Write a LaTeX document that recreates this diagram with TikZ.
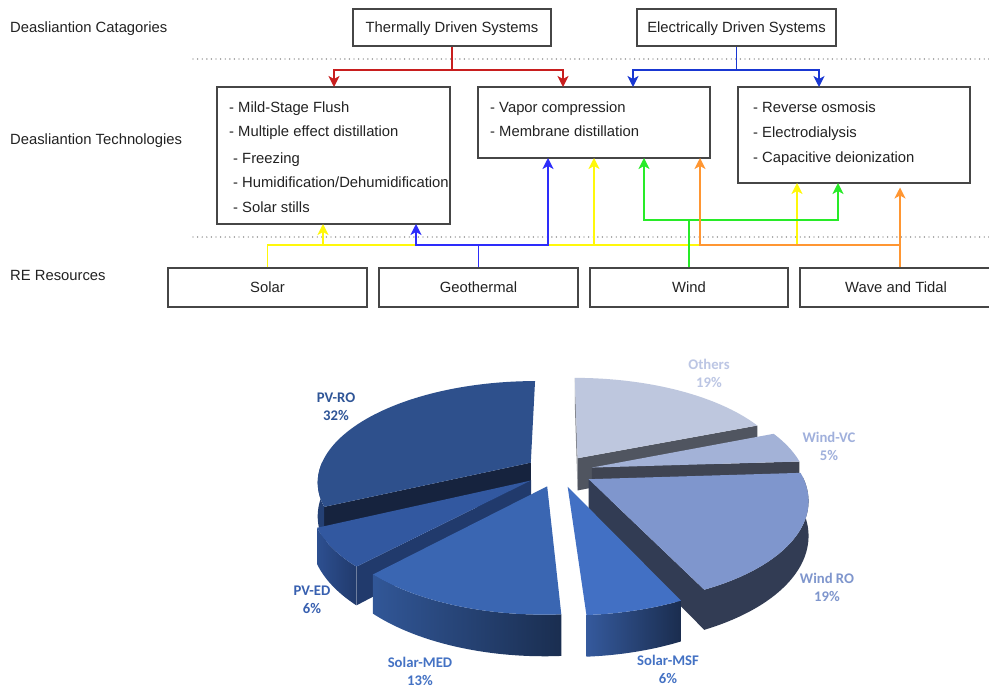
\documentclass[tikz,border=0pt]{standalone}
\usepackage{fontspec}
\setmainfont{Liberation Sans}
\newfontfamily\pielabfont{Carlito}
\usetikzlibrary{arrows.meta}

% text and line colours
\definecolor{txt}{RGB}{34,34,34}
\definecolor{boxgray}{RGB}{70,70,70}
\definecolor{dotgray}{RGB}{110,110,110}
\definecolor{cRed}{RGB}{200,30,30}
\definecolor{cElec}{RGB}{25,55,210}
\definecolor{cGeo}{RGB}{45,45,250}
\definecolor{cYel}{RGB}{255,248,10}
\definecolor{cGrn}{RGB}{40,235,40}
\definecolor{cOra}{RGB}{255,150,50}

% pie colours: top faces, cut faces, rims
\definecolor{pvro}{RGB}{46,80,140}
\definecolor{pvroD}{RGB}{22,35,62}
\definecolor{pvroS}{RGB}{36,64,116}
\definecolor{pved}{RGB}{50,88,160}
\definecolor{pvedD}{RGB}{33,58,108}
\definecolor{smed}{RGB}{58,102,178}
\definecolor{smsf}{RGB}{66,112,196}
\definecolor{windro}{RGB}{127,150,205}
\definecolor{windroD}{RGB}{50,60,84}
\definecolor{windvc}{RGB}{163,178,215}
\definecolor{windvcD}{RGB}{63,68,82}
\definecolor{others}{RGB}{190,199,222}
\definecolor{othersD}{RGB}{80,85,96}
\definecolor{lPVRO}{RGB}{47,85,151}
\definecolor{lPVED}{RGB}{56,96,176}
\definecolor{lSolar}{RGB}{68,114,196}
\definecolor{lWindRO}{RGB}{127,150,205}
\definecolor{lWindVC}{RGB}{160,176,220}
\definecolor{lOthers}{RGB}{188,198,228}

\newcommand\mainfs{\fontsize{14.8}{17}\selectfont}
\newcommand\piefs{\pielabfont\bfseries\fontsize{14.7}{18}\selectfont}

% perspective pie: centre, horizontal scale, depth scale, perspective, thickness, explosion
\newcommand\PieCX{559}
\newcommand\PieCY{471}
\newcommand\PieS{212}
\newcommand\PieA{99}
\newcommand\PieK{0.18}
\newcommand\PieT{33}
\newcommand\PieE{0.16}

% top face of a slice: #1,#2 angles, #3 mid angle, #4 colour
\newcommand\PieTop[4]{%
  \fill[#4] ({px(#1,0,#3)},{py(#1,0,#3,0)})
    -- plot[domain=#1:#2,samples=60,variable=\q] ({px(\q,1,#3)},{py(\q,1,#3,0)}) -- cycle;}
% radial cut face: #1 angle, #2 mid angle, #3 colour
\newcommand\PieRad[3]{%
  \fill[#3] ({px(#1,0,#2)},{py(#1,0,#2,0)}) -- ({px(#1,1,#2)},{py(#1,1,#2,0)})
    -- ({px(#1,1,#2)},{py(#1,1,#2,1)}) -- ({px(#1,0,#2)},{py(#1,0,#2,1)}) -- cycle;}
% outer rim: #1,#2 angles, #3 mid angle, #4 fill options
\newcommand\PieRim[4]{%
  \path[#4] plot[domain=#1:#2,samples=50,variable=\q] ({px(\q,1,#3)},{py(\q,1,#3,0)})
    -- plot[domain=#2:#1,samples=50,variable=\q] ({px(\q,1,#3)},{py(\q,1,#3,1)}) -- cycle;}

\begin{document}
\begin{tikzpicture}[x=1pt,y=-1pt,
  declare function={
    pu(\angl,\radi,\midd)=\PieE*cos(\midd)+\radi*cos(\angl);
    pv(\angl,\radi,\midd)=\PieE*sin(\midd)+\radi*sin(\angl);
    px(\angl,\radi,\midd)=\PieCX+\PieS*pu(\angl,\radi,\midd)/(1+\PieK*pv(\angl,\radi,\midd));
    py(\angl,\radi,\midd,\hgt)=\PieCY-(\PieA*pv(\angl,\radi,\midd)-\PieT*\hgt)/(1+\PieK*pv(\angl,\radi,\midd));
  },
  box/.style={draw=boxgray, line width=1.2pt, fill=white, inner sep=0pt, font=\mainfs, text=txt,
    text height=10.6pt, text depth=0pt},
  item/.style={anchor=west, inner sep=0pt, font=\mainfs, text=txt, text height=10.6pt, text depth=0pt},
  sepline/.style={draw=dotgray, line width=1.4pt, dash pattern=on 0pt off 4.6pt, line cap=round},
  conn/.style={line width=1.5pt, -{Stealth[length=11pt,width=11pt,inset=3pt]}},
  pielab/.style={font=\piefs, align=center, inner sep=0pt},
]
\useasboundingbox (0,0) rectangle (989,688);
\clip (0,0) rectangle (989,688);
\fill[white] (0,0) rectangle (989,688);

% ---------- row labels ----------
\node[item] (cat)  at (10,27)  {Deasliantion Catagories};
\node[item] (tech) at (10,139) {Deasliantion Technologies};
\node[item] (res)  at (10,275) {RE Resources};

% ---------- separators ----------
\draw[sepline] (193,59) -- (989,59);
\draw[sepline] (193,237) -- (989,237);

% ---------- categories ----------
\node[box, minimum width=198pt, minimum height=37pt] (thermal) at (452,27.5) {Thermally Driven Systems};
\node[box, minimum width=199pt, minimum height=37pt] (elec) at (736.5,27.5) {Electrically Driven Systems};

% ---------- technologies ----------
\node[box, minimum width=233pt, minimum height=137pt] (techA) at (333.5,155.5) {};
\node[box, minimum width=232pt, minimum height=71pt]  (techB) at (594,122.5) {};
\node[box, minimum width=232pt, minimum height=96pt]  (techC) at (854,135) {};

\node[item] (a1) at (229,107) {- Mild-Stage Flush};
\node[item] (a2) at (229,131) {- Multiple effect distillation};
\node[item] (a3) at (233,158) {- Freezing};
\node[item] (a4) at (233,182) {- Humidification/Dehumidification};
\node[item] (a5) at (233,207) {- Solar stills};
\node[item] (b1) at (490,107) {- Vapor compression};
\node[item] (b2) at (490,131) {- Membrane distillation};
\node[item] (c1) at (753,107) {- Reverse osmosis};
\node[item] (c2) at (753,132) {- Electrodialysis};
\node[item] (c3) at (753,157) {- Capacitive deionization};

% ---------- resources ----------
\node[box, minimum width=199pt, minimum height=39pt] (solar) at (267.5,287.5) {Solar};
\node[box, minimum width=199pt, minimum height=39pt] (geo)   at (478.5,287.5) {Geothermal};
\node[box, minimum width=198pt, minimum height=39pt] (wind)  at (689,287.5) {Wind};
\node[box, minimum width=192pt, minimum height=39pt] (wave)  at (896,287.5) {Wave and Tidal};

% ---------- junctions and landing points ----------
\coordinate (tJ) at (452,70);
\coordinate (eJ) at (736.5,70);
\coordinate (sJ) at (267.5,245);
\coordinate (gJ) at (478.5,245);
\coordinate (wJ) at (689,220);
\coordinate (oJ) at (900,245);

\coordinate (aT1) at (334,87);
\coordinate (bT1) at (563,87);
\coordinate (bT2) at (633,87);
\coordinate (cT1) at (819,87);
\coordinate (aB1) at (323,224);
\coordinate (aB2) at (416,224);
\coordinate (bB1) at (548,158);
\coordinate (bB2) at (594,158);
\coordinate (bB3) at (644,158);
\coordinate (bB4) at (700,158);
\coordinate (cB1) at (797,183);
\coordinate (cB2) at (838,183);
\coordinate (cB3) at (900,187.5);

% ---------- category to technology ----------
\draw[conn, cRed] (thermal.south) -- (tJ) -| (aT1);
\draw[conn, cRed] (tJ) -| (bT1);
\draw[conn, cElec] (elec.south) -- (eJ) -| (bT2);
\draw[conn, cElec] (eJ) -| (cT1);

% ---------- resource to technology ----------
\draw[conn, cYel] (solar.north) -- (sJ) -| (aB1);
\draw[conn, cYel] (sJ) -| (bB2);
\draw[conn, cYel] (sJ) -| (cB1);
\draw[conn, cGeo] (geo.north) -- (gJ) -| (aB2);
\draw[conn, cGeo] (gJ) -| (bB1);
\draw[conn, cGrn] (wind.north) -- (wJ) -| (bB3);
\draw[conn, cGrn] (wJ) -| (cB2);
\draw[conn, cOra] ([xshift=4pt]wave.north) -- (oJ) -| (bB4);
\draw[conn, cOra] (oJ) -- (cB3);

% ---------- exploded 3D pie ----------
% Others
\PieRad{21.6}{55.8}{othersD}
\PieRad{90}{55.8}{othersD!70!white}
\PieTop{21.6}{90}{55.8}{others}
% PV-RO
\PieRad{205.2}{147.6}{pvroD}
\PieRim{180}{205.2}{147.6}{fill=pvroS}
\PieTop{90}{205.2}{147.6}{pvro}
% Wind-VC
\PieRad{3.6}{12.6}{windvcD}
\PieTop{3.6}{21.6}{12.6}{windvc}
% Wind RO
\PieRad{-64.8}{-30.6}{windroD}
\PieRim{-64.8}{1}{-30.6}{fill=windroD}
\PieTop{-64.8}{3.6}{-30.6}{windro}
% PV-ED
\PieRad{-133.2}{-144}{pvedD}
\PieRim{-154.8}{-133.2}{-144}{left color=pved!90!black, right color=pvedD}
\PieTop{-154.8}{-133.2}{-144}{pved}
% Solar-MED
\PieRim{-133.2}{-86.4}{-109.8}{left color=smed!85!black, right color=smed!45!black}
\PieTop{-133.2}{-86.4}{-109.8}{smed}
% Solar-MSF
\PieRim{-86.4}{-64.8}{-75.6}{left color=smsf!80!black, right color=smsf!40!black}
\PieTop{-86.4}{-64.8}{-75.6}{smsf}

% ---------- pie labels ----------
\node[pielab, text=lPVRO]   (lPvro)   at (336,407) {PV-RO\\32\%};
\node[pielab, text=lPVED]   (lPved)   at (312,600) {PV-ED\\6\%};
\node[pielab, text=lSolar]  (lSmed)   at (420,671) {Solar-MED\\13\%};
\node[pielab, text=lSolar]  (lSmsf)   at (668,669) {Solar-MSF\\6\%};
\node[pielab, text=lWindRO] (lWindro) at (827,587) {Wind RO\\19\%};
\node[pielab, text=lWindVC] (lWindvc) at (829,446) {Wind-VC\\5\%};
\node[pielab, text=lOthers] (lOthers) at (709,373) {Others\\19\%};
\end{tikzpicture}
\end{document}
